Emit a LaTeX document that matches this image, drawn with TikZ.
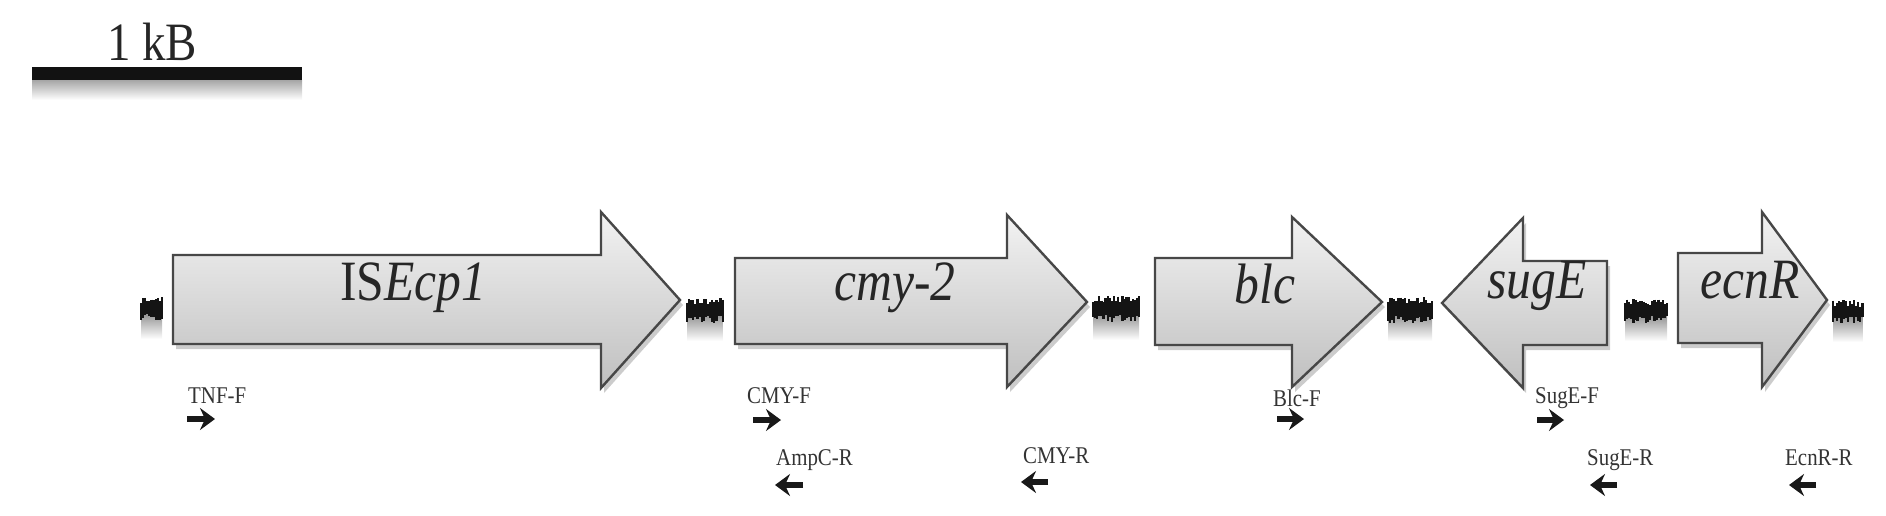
\documentclass[tikz,border=0pt]{standalone}
\usepackage{fontspec}
\setmainfont{Liberation Serif}[FakeStretch=0.87]
\usetikzlibrary{shadows,arrows.meta}
\newcommand\dnawig[4]{% #1 x0, #2 strokes, #3 y centre, #4 half height
  \shade[top color=black!45, bottom color=white] (#1,#3+3) rectangle ({#1+2.1*#2},#3+#4+18);
  \foreach \i in {0,...,#2}{
    \pgfmathsetmacro\xx{#1+2.1*\i}
    \pgfmathsetmacro\ya{#3-#4+7*rnd}
    \pgfmathsetmacro\yb{#3+#4-7*rnd}
    \draw[black!92, line width=2.3pt] (\xx,\ya) -- (\xx,\yb);
  }%
}
\begin{document}
\begin{tikzpicture}[x=1pt,y=-1pt,
  genebox/.style={draw=black!72, line width=2.4pt, line join=miter,
    top color=black!5, bottom color=black!25,
    drop shadow={shadow xshift=3pt, shadow yshift=-5pt, opacity=0.2, fill=black}},
  genelab/.style={inner sep=0pt, anchor=base, text=black!85,
    font=\fontsize{57}{60}\selectfont\itshape},
  primlab/.style={inner sep=0pt, anchor=base west, text=black!80,
    font=\fontsize{24}{26}\selectfont},
  primer/.style={line width=5.5pt, black!90,
    -{Stealth[length=15pt, width=22pt, inset=5pt]}},
  scalebar/.style={line width=13pt, black!93}
]
\useasboundingbox (0,0) rectangle (1886,515);
\pgfmathsetseed{7}

% scale bar
\shade[top color=black!35, bottom color=white] (32,80) rectangle (302,100);
\coordinate (sbA) at (32,73.5);
\coordinate (sbB) at (302,73.5);
\draw[scalebar] (sbA) -- (sbB);
\node[inner sep=0pt, anchor=base west, text=black!85,
  font=\fontsize{54}{56}\selectfont] (kb) at (107,60) {1 kB};

% intergenic wiggles
\dnawig{141}{10}{309}{12}
\dnawig{687}{17}{310}{13}
\dnawig{1093}{22}{309}{13}
\dnawig{1388}{21}{310}{13}
\dnawig{1625}{20}{311}{12}
\dnawig{1833}{14}{312}{12}

% genes
\path[genebox] (173,255) -- (601,255) -- (601,212) -- (680,300) -- (601,388) -- (601,344) -- (173,344) -- cycle;
\path[genebox] (735,258) -- (1007,258) -- (1007,215) -- (1087,302) -- (1007,387) -- (1007,344) -- (735,344) -- cycle;
\path[genebox] (1155,258) -- (1292,258) -- (1292,217) -- (1382,302) -- (1292,387) -- (1292,345) -- (1155,345) -- cycle;
\path[genebox] (1607,261) -- (1523,261) -- (1523,218) -- (1442,303) -- (1523,388) -- (1523,345) -- (1607,345) -- cycle;
\path[genebox] (1678,253) -- (1762,253) -- (1762,212) -- (1827,300) -- (1762,387) -- (1762,343) -- (1678,343) -- cycle;

\node[genelab] (lise) at (413,300) {\upshape IS\textit{Ecp1}};
\node[genelab] (lcmy) at (895,300) {cmy-2};
\node[genelab] (lblc) at (1265,303) {blc};
\node[genelab] (lsug) at (1537,298) {sugE};
\node[genelab] (lecn) at (1750,298) {ecnR};

% primers, first row (forward)
\node[primlab] (ptnf) at (188,403) {TNF-F};
\node[primlab] (pcmyf) at (747,403) {CMY-F};
\node[primlab] (pblc) at (1273,406) {Blc-F};
\node[primlab] (psugf) at (1535,403) {SugE-F};
\coordinate (tnfA) at (187,419);  \coordinate (tnfB) at (215,419);
\coordinate (cmyfA) at (753,420); \coordinate (cmyfB) at (781,420);
\coordinate (blcA) at (1277,419); \coordinate (blcB) at (1304,419);
\coordinate (sugfA) at (1537,420); \coordinate (sugfB) at (1564,420);
\draw[primer] (tnfA) -- (tnfB);
\draw[primer] (cmyfA) -- (cmyfB);
\draw[primer] (blcA) -- (blcB);
\draw[primer] (sugfA) -- (sugfB);

% primers, second row (reverse)
\node[primlab] (pamp) at (776,465) {AmpC-R};
\node[primlab] (pcmyr) at (1023,463) {CMY-R};
\node[primlab] (psugr) at (1587,465) {SugE-R};
\node[primlab] (pecn) at (1785,465) {EcnR-R};
\coordinate (ampA) at (803,485);  \coordinate (ampB) at (775,485);
\coordinate (cmyrA) at (1048,482); \coordinate (cmyrB) at (1021,482);
\coordinate (sugrA) at (1617,485); \coordinate (sugrB) at (1590,485);
\coordinate (ecnA) at (1816,485); \coordinate (ecnB) at (1789,485);
\draw[primer] (ampA) -- (ampB);
\draw[primer] (cmyrA) -- (cmyrB);
\draw[primer] (sugrA) -- (sugrB);
\draw[primer] (ecnA) -- (ecnB);
\end{tikzpicture}
\end{document}
